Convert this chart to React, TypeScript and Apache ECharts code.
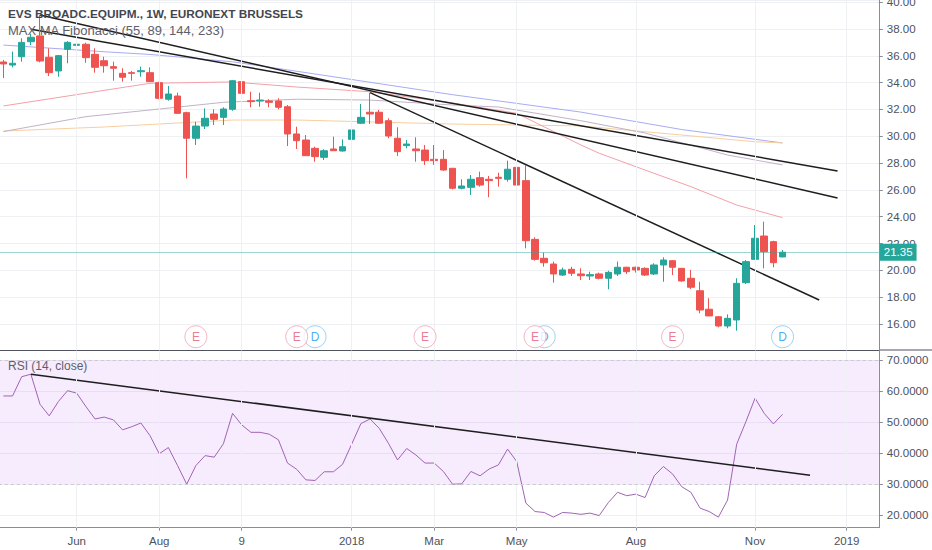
import React, { useEffect, useRef } from 'react';
import * as echarts from 'echarts';

// ---------- data ----------
const weekCount = 96;
const firstWeekUTC = Date.UTC(2017, 3, 10);
const categories: string[] = [];
for (let i = 0; i < weekCount; i++) {
  categories.push(new Date(firstWeekUTC + i * 7 * 86400000).toISOString().slice(0, 10));
}

// [open, close, low, high]
const candles: number[][] = [
  [35.54, 35.39, 34.34, 35.69], [35.31, 35.44, 35.14, 36.31], [35.93, 37.0, 35.56, 37.3], [37.05, 37.38, 36.8, 37.63],
  [37.48, 35.61, 35.51, 39.04], [35.89, 34.74, 34.49, 36.56], [34.87, 36.01, 34.44, 36.06], [36.48, 37.0, 35.44, 37.1],
  [36.78, 36.86, 35.69, 37.23], [36.86, 35.86, 35.48, 36.98], [36.11, 35.14, 34.74, 36.56], [35.63, 35.26, 34.74, 35.93],
  [35.19, 35.07, 34.14, 35.56], [34.69, 34.4, 34.07, 35.07], [34.74, 34.69, 34.14, 34.87], [34.81, 34.89, 34.44, 35.19],
  [34.74, 34.07, 34.05, 35.14], [33.99, 32.83, 32.76, 34.07], [32.76, 33.15, 32.65, 33.75], [33.0, 31.71, 31.66, 33.25],
  [31.76, 29.85, 26.86, 31.83], [29.85, 30.76, 29.35, 31.08], [30.76, 31.34, 30.54, 32.08], [31.66, 31.26, 30.84, 32.01],
  [31.41, 32.03, 30.84, 32.16], [32.01, 34.14, 31.9, 34.2], [34.07, 33.2, 32.58, 34.19], [32.65, 32.58, 32.16, 33.32],
  [32.63, 32.7, 32.2, 33.25], [32.63, 32.53, 32.16, 32.76], [32.63, 32.16, 32.01, 32.83], [32.2, 30.17, 29.27, 32.33],
  [30.17, 29.67, 29.05, 30.71], [29.72, 28.55, 28.53, 30.09], [29.1, 28.48, 28.1, 29.22], [28.43, 28.92, 28.23, 29.03],
  [29.05, 28.92, 28.9, 29.97], [28.9, 29.22, 28.85, 29.77], [29.77, 30.47, 29.52, 30.84], [30.97, 31.41, 30.91, 32.41],
  [31.79, 31.66, 30.91, 33.25], [31.79, 30.97, 30.91, 31.96], [31.16, 30.02, 29.85, 31.34], [29.85, 28.85, 28.53, 30.67],
  [29.3, 29.42, 29.1, 29.72], [29.05, 28.92, 28.1, 29.92], [28.97, 28.18, 27.86, 29.35], [28.28, 28.18, 27.86, 29.35],
  [28.28, 27.48, 27.43, 28.97], [27.61, 26.12, 26.04, 27.61], [26.12, 26.29, 26.04, 26.79], [26.19, 26.79, 25.62, 27.11],
  [26.91, 26.36, 26.24, 27.36], [26.79, 26.69, 25.45, 27.04], [26.94, 26.86, 26.24, 27.28], [26.79, 27.54, 26.61, 28.18],
  [27.68, 26.36, 26.29, 28.03], [26.69, 22.21, 21.64, 27.86], [22.31, 20.82, 20.72, 22.46], [20.9, 20.57, 20.27, 21.32],
  [20.47, 19.73, 19.08, 20.65], [19.65, 20.03, 19.58, 20.2], [20.08, 19.78, 19.58, 20.27], [19.73, 19.6, 19.28, 20.15],
  [19.58, 19.68, 19.28, 19.9], [19.73, 19.41, 19.33, 19.83], [19.41, 19.85, 18.59, 19.97], [19.73, 20.23, 19.58, 20.65],
  [20.23, 19.9, 19.73, 20.27], [20.23, 20.03, 19.83, 20.27], [20.15, 19.65, 19.58, 20.23], [19.73, 20.4, 19.65, 20.53],
  [20.4, 20.77, 19.15, 20.97], [20.72, 20.23, 19.65, 20.77], [20.15, 19.21, 19.15, 20.15], [19.41, 18.74, 18.61, 20.03],
  [18.48, 17.04, 16.8, 19.15], [17.1, 16.6, 16.6, 17.92], [16.54, 15.85, 15.75, 16.6], [15.85, 16.42, 15.68, 16.72],
  [16.3, 19.03, 15.5, 19.41], [19.08, 20.65, 18.98, 20.77], [20.82, 22.39, 20.77, 23.38], [22.56, 21.39, 20.15, 23.63],
  [22.14, 20.57, 20.23, 22.21], [21.0, 21.35, 20.97, 21.52],
];
const lastPrice = 21.35;

const rsi: number[] = [
  58.4, 58.4, 64.6, 65.4, 55.7, 52.0, 56.6, 60.1, 59.3, 55.0,
  51.0, 51.6, 50.7, 47.5, 48.5, 49.7, 45.6, 39.8, 41.8, 36.0,
  30.0, 36.0, 39.2, 38.7, 43.0, 52.8, 49.1, 46.7, 46.7, 46.1,
  44.3, 36.8, 34.8, 31.4, 31.2, 34.0, 34.0, 36.4, 42.9, 49.5,
  51.0, 48.0, 43.2, 37.8, 41.5, 39.4, 36.8, 36.8, 34.1, 30.0,
  30.1, 34.1, 32.7, 34.9, 36.2, 41.3, 37.3, 23.9, 21.2, 20.9,
  19.4, 20.9, 20.7, 20.3, 20.7, 19.9, 24.1, 27.4, 26.3, 26.8,
  25.7, 32.7, 35.7, 33.3, 29.2, 27.4, 22.3, 21.2, 19.4, 24.9,
  42.9, 50.1, 57.7, 52.8, 49.4, 52.5,
];

// moving averages, sampled [week index, price]
const maBlue: number[][] = [[0, 36.8], [11, 36.3], [16, 36.1], [25, 35.55], [31, 34.95], [49, 33.1], [63, 31.8], [74, 30.5], [85, 29.5]];
const maOrange: number[][] = [[0, 30.39], [11, 30.69], [25, 31.21], [32, 31.21], [49, 30.91], [63, 30.77], [74, 30.09], [82, 29.59], [85, 29.5]];
const maGray: number[][] = [[0, 30.35], [9, 31.46], [24, 32.53], [32, 32.76], [40, 32.7], [49, 32.33], [54, 32.18], [63, 31.16], [70, 30.24], [79, 28.6], [85, 27.86]];
const maPink: number[][] = [[0, 32.26], [16, 33.95], [25, 34.05], [32, 33.67], [40, 33.32], [49, 32.48], [56, 31.71], [63, 29.35], [65, 28.73], [70, 27.48], [75, 26.24], [80, 24.87], [85, 23.93]];

// drawn trend lines [week index, value]
const trendA: number[][] = [[4, 39.04], [91, 25.4]];
const trendB: number[][] = [[3, 37.98], [91, 27.41]];
const trendC: number[][] = [[40, 33.25], [89, 17.79]];
const rsiTrend: number[][] = [[3, 65.4], [88, 32.9]];

const earningsIdx = [21, 32, 46, 58, 73];
const dividendIdx = [34, 59, 85];
const markerLevel = 15.05;

const tickIdx = [8, 17, 26, 38, 47, 56, 69, 82, 92];
const tickText = ['Jun', 'Aug', '9', '2018', 'Mar', 'May', 'Aug', 'Nov', '2019'];

// ---------- chart ----------
const FONT = '"Liberation Sans", Arial, sans-serif';
const UP = '#26a69a';
const DOWN = '#ef5350';
const AXIS = '#8a8d96';
const LABEL = '#4c525e';
const GRIDC = '#eef0f4';

export default function App() {
  const ref = useRef<HTMLDivElement>(null);
  useEffect(() => {
    document.body.style.margin = '0';
    const chart = echarts.init(ref.current as HTMLDivElement, undefined, { renderer: 'svg' });
    const tickSet = new Set(tickIdx);
    const labelFor: Record<number, string> = {};
    tickIdx.forEach((t, k) => { labelFor[t] = tickText[k]; });
    const vLines = tickIdx.map((i) => ({ xAxis: i, lineStyle: { color: GRIDC, width: 1, type: 'solid' }, label: { show: false } }));
    const lineSeries = (data: number[][], color: string, width: number, xi: number) => ({
      type: 'line', xAxisIndex: xi, yAxisIndex: xi, data, showSymbol: false, symbol: 'none', silent: true,
      lineStyle: { color, width }, z: 3,
    });

    const option: any = {
      animation: false,
      backgroundColor: '#ffffff',
      textStyle: { fontFamily: FONT },
      title: [
        { text: 'EVS BROADC.EQUIPM., 1W, EURONEXT BRUSSELS', left: 8, top: 8, padding: 0, textStyle: { fontSize: 11.8, fontWeight: 'bold', color: '#434651', fontFamily: FONT } },
        { text: 'MAX MA Fibonacci (55, 89, 144, 233)', left: 8, top: 24, padding: 0, textStyle: { fontSize: 13, fontWeight: 'normal', color: '#5d606b', fontFamily: FONT } },
        { text: 'RSI (14, close)', left: 8, top: 360, padding: 0, textStyle: { fontSize: 12, fontWeight: 'normal', color: '#5d606b', fontFamily: FONT } },
      ],
      graphic: [
        { type: 'line', silent: true, shape: { x1: 879, y1: 350, x2: 932, y2: 350 }, style: { stroke: '#50535e', lineWidth: 1 } },
      ],
      grid: [
        { left: -1.2, top: 0, width: 880, height: 350, containLabel: false, outerBoundsMode: 'none' },
        { left: -1.2, top: 350.6, width: 880, height: 177.1, containLabel: false, outerBoundsMode: 'none' },
      ],
      xAxis: [
        {
          type: 'category', gridIndex: 0, data: categories, boundaryGap: true,
          axisLine: { show: true, lineStyle: { color: '#50535e', width: 1 } },
          axisTick: { show: false }, axisLabel: { show: false }, splitLine: { show: false },
        },
        {
          type: 'category', gridIndex: 1, data: categories, boundaryGap: true,
          axisLine: { show: true, lineStyle: { color: AXIS, width: 1 } },
          axisTick: { show: true, alignWithLabel: true, interval: (i: number) => tickSet.has(i), length: 3, lineStyle: { color: AXIS } },
          axisLabel: { interval: (i: number) => tickSet.has(i), formatter: (_v: string, i: number) => labelFor[i] || '', fontSize: 11.5, color: LABEL, margin: 7, fontFamily: FONT },
          splitLine: { show: false },
        },
      ],
      yAxis: [
        {
          type: 'value', gridIndex: 0, position: 'right', min: 14.06, max: 40.16, splitNumber: 13,
          axisLine: { show: true, lineStyle: { color: AXIS } },
          axisTick: { show: true, length: 4, lineStyle: { color: AXIS } },
          axisLabel: { formatter: (v: number) => v.toFixed(2), showMinLabel: false, showMaxLabel: false, fontSize: 11.5, color: LABEL, margin: 8, fontFamily: FONT },
          splitLine: { show: true, lineStyle: { color: GRIDC } },
        },
        {
          type: 'value', gridIndex: 1, position: 'right', min: 16, max: 73, splitNumber: 6,
          axisLine: { show: true, lineStyle: { color: AXIS } },
          axisTick: { show: true, length: 4, lineStyle: { color: AXIS } },
          axisLabel: { formatter: (v: number) => v.toFixed(4), showMinLabel: false, showMaxLabel: false, fontSize: 11.5, color: LABEL, margin: 8, fontFamily: FONT },
          splitLine: { show: true, lineStyle: { color: GRIDC } },
        },
      ],
      series: [
        {
          type: 'candlestick', xAxisIndex: 0, yAxisIndex: 0, data: candles, barWidth: 7, silent: true, z: 4,
          itemStyle: { color: UP, color0: DOWN, borderColor: UP, borderColor0: DOWN, borderWidth: 1 },
          markLine: {
            silent: true, symbol: 'none', animation: false,
            data: [
              ...vLines,
              {
                yAxis: lastPrice,
                lineStyle: { color: 'rgba(38,166,154,0.45)', width: 1, type: 'solid' },
                label: { show: true, position: 'end', formatter: lastPrice.toFixed(2), backgroundColor: UP, color: '#ffffff', padding: [3, 4, 2, 4], fontSize: 11.5, distance: 1, fontFamily: FONT },
              },
            ],
          },
        },
        lineSeries(maBlue, '#a9abf3', 1, 0),
        lineSeries(maOrange, '#f7cf9f', 1, 0),
        lineSeries(maGray, '#c2b2c8', 1, 0),
        lineSeries(maPink, '#f4a0a8', 1, 0),
        lineSeries(trendA, '#1e1e1e', 1.5, 0),
        lineSeries(trendB, '#1e1e1e', 1.5, 0),
        lineSeries(trendC, '#1e1e1e', 1.5, 0),
        {
          type: 'scatter', xAxisIndex: 0, yAxisIndex: 0, silent: true, z: 5,
          data: dividendIdx.map((i) => [i, markerLevel]), symbol: 'circle', symbolSize: 22,
          itemStyle: { color: '#ffffff', borderColor: '#86c5f3', borderWidth: 1 },
          label: { show: true, position: 'inside', formatter: 'D', color: '#2196f3', fontSize: 12, fontFamily: FONT },
        },
        {
          type: 'scatter', xAxisIndex: 0, yAxisIndex: 0, silent: true, z: 6,
          data: earningsIdx.map((i) => [i, markerLevel]), symbol: 'circle', symbolSize: 22,
          itemStyle: { color: '#ffffff', borderColor: '#f3a3b3', borderWidth: 1 },
          label: { show: true, position: 'inside', formatter: 'E', color: '#e65a78', fontSize: 12, fontFamily: FONT },
        },
        {
          type: 'line', xAxisIndex: 1, yAxisIndex: 1, data: rsi, showSymbol: false, symbol: 'none', silent: true, z: 3,
          lineStyle: { color: '#a163b5', width: 1 },
          markArea: { silent: true, itemStyle: { color: 'rgba(178,102,235,0.12)' }, data: [[{ yAxis: 30 }, { yAxis: 70 }]] },
          markLine: {
            silent: true, symbol: 'none', animation: false,
            data: [
              ...vLines,
              { yAxis: 70, lineStyle: { color: '#c9c9ce', width: 1, type: [3, 3] }, label: { show: false } },
              { yAxis: 30, lineStyle: { color: '#c9c9ce', width: 1, type: [3, 3] }, label: { show: false } },
            ],
          },
        },
        lineSeries(rsiTrend, '#1e1e1e', 1.5, 1),
      ],
    };
    chart.setOption(option);
    return () => chart.dispose();
  }, []);
  return <div ref={ref} style={{ width: 932, height: 550 }} />;
}
